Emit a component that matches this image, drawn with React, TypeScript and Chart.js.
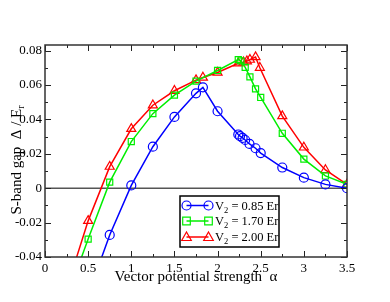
import React, { useEffect, useRef } from "react";
import { Chart, registerables } from "chart.js";

Chart.register(...registerables);

const xTicks = [0, 0.5, 1, 1.5, 2, 2.5, 3, 3.5];
const yTicks = [-0.04, -0.02, 0, 0.02, 0.04, 0.06, 0.08];

const alpha085 = [0.5, 0.75, 1.0, 1.25, 1.5, 1.75, 1.83, 2.0, 2.24, 2.26, 2.29, 2.32, 2.37, 2.44, 2.5, 2.75, 3.0, 3.25, 3.5];
const gap085 = [-0.062, -0.0272, 0.0016, 0.0241, 0.0414, 0.0551, 0.0586, 0.0447, 0.0312, 0.0302, 0.0292, 0.0280, 0.0257, 0.0232, 0.0204, 0.0120, 0.0061, 0.0022, 0.0];

const alpha170 = [0.25, 0.5, 0.75, 1.0, 1.25, 1.5, 1.75, 2.0, 2.24, 2.27, 2.32, 2.375, 2.44, 2.5, 2.75, 3.0, 3.25, 3.5];
const gap170 = [-0.064, -0.0296, 0.0035, 0.0271, 0.0433, 0.0541, 0.0622, 0.0684, 0.0747, 0.0740, 0.0702, 0.0647, 0.0577, 0.0527, 0.0319, 0.0169, 0.0071, 0.0022];

const alpha200 = [0.25, 0.5, 0.75, 1.0, 1.25, 1.5, 1.75, 1.83, 2.0, 2.24, 2.3, 2.34, 2.375, 2.44, 2.49, 2.75, 3.0, 3.25, 3.5];
const gap200 = [-0.0585, -0.019, 0.0125, 0.0345, 0.0482, 0.0566, 0.0628, 0.0643, 0.0672, 0.0726, 0.0732, 0.0738, 0.0747, 0.0762, 0.0700, 0.0419, 0.0237, 0.0106, 0.0022];

const seriesLabels = ["0.85", "1.70", "2.00"];
const seriesColors = ["#0000ff", "#00ee00", "#ff0000"];
const seriesMarkers = ["circle", "rect", "triangle"];

const SERIF = "'Liberation Serif', 'DejaVu Serif', serif";

function drawMarker(ctx, type, x, y, color) {
  ctx.save();
  ctx.strokeStyle = color;
  ctx.lineWidth = 1.2;
  ctx.beginPath();
  if (type === "circle") {
    ctx.arc(x, y, 4.5, 0, Math.PI * 2);
  } else if (type === "rect") {
    ctx.rect(x - 3.8, y - 3.8, 7.6, 7.6);
  } else {
    ctx.moveTo(x, y - 5);
    ctx.lineTo(x + 4.8, y + 3.5);
    ctx.lineTo(x - 4.8, y + 3.5);
    ctx.closePath();
  }
  ctx.stroke();
  ctx.restore();
}

const framePlugin = {
  id: "frameStuff",
  beforeDatasetsDraw(chart) {
    const { ctx, chartArea: a, scales } = chart;
    const y0 = scales.y.getPixelForValue(0);
    ctx.save();
    ctx.strokeStyle = "#555555";
    ctx.lineWidth = 1.5;
    ctx.beginPath();
    ctx.moveTo(a.left, y0);
    ctx.lineTo(a.right, y0);
    ctx.stroke();
    ctx.restore();
  },
  afterDraw(chart) {
    const { ctx, chartArea: a, scales } = chart;
    ctx.save();
    ctx.strokeStyle = "#222222";
    ctx.lineWidth = 1;
    ctx.beginPath();
    for (let v = 0; v <= 3.5 + 1e-9; v += 0.25) {
      const px = Math.round(scales.x.getPixelForValue(v)) + 0.5;
      const major = Math.abs(v * 2 - Math.round(v * 2)) < 1e-6;
      const len = major ? 6 : 3;
      ctx.moveTo(px, a.bottom);
      ctx.lineTo(px, a.bottom - len);
      ctx.moveTo(px, a.top);
      ctx.lineTo(px, a.top + len);
    }
    for (let i = -4; i <= 8; i++) {
      const v = i * 0.01;
      const py = Math.round(scales.y.getPixelForValue(v)) + 0.5;
      const major = i % 2 === 0;
      const len = major ? 6 : 3;
      ctx.moveTo(a.left, py);
      ctx.lineTo(a.left + len, py);
      ctx.moveTo(a.right, py);
      ctx.lineTo(a.right - len, py);
    }
    ctx.stroke();
    ctx.strokeStyle = "#333333";
    ctx.lineWidth = 1.5;
    ctx.strokeRect(a.left, a.top, a.right - a.left, a.bottom - a.top);

    // legend
    const lx = 180, ly = 196, lw = 99, lh = 51;
    ctx.fillStyle = "#ffffff";
    ctx.fillRect(lx, ly, lw, lh);
    ctx.strokeStyle = "#000000";
    ctx.lineWidth = 1.5;
    ctx.strokeRect(lx, ly, lw, lh);
    const rows = [205.5, 221, 237];
    for (let i = 0; i < 3; i++) {
      const yy = rows[i];
      ctx.strokeStyle = seriesColors[i];
      ctx.lineWidth = 1.5;
      ctx.beginPath();
      ctx.moveTo(186.5, yy);
      ctx.lineTo(208.5, yy);
      ctx.stroke();
      drawMarker(ctx, seriesMarkers[i], 186.5, yy, seriesColors[i]);
      drawMarker(ctx, seriesMarkers[i], 208.5, yy, seriesColors[i]);
      ctx.fillStyle = "#000000";
      ctx.textBaseline = "alphabetic";
      ctx.textAlign = "left";
      ctx.font = `12.5px ${SERIF}`;
      let tx = 215;
      const base = yy + 4;
      ctx.fillText("V", tx, base);
      tx += ctx.measureText("V").width;
      ctx.font = `8.5px ${SERIF}`;
      ctx.fillText("2", tx, base + 3);
      tx += ctx.measureText("2").width;
      ctx.font = `12.5px ${SERIF}`;
      ctx.fillText(" = " + seriesLabels[i] + " Er", tx, base);
    }

    // x title
    ctx.fillStyle = "#000000";
    ctx.font = `15px ${SERIF}`;
    ctx.textAlign = "center";
    ctx.textBaseline = "alphabetic";
    ctx.fillText("Vector potential strength  \u03b1", 196, 281);

    // y title
    ctx.save();
    ctx.translate(21, 160);
    ctx.rotate(-Math.PI / 2);
    ctx.font = `15px ${SERIF}`;
    const main = "S-band gap  \u0394 / E";
    const wMain = ctx.measureText(main).width;
    ctx.font = `10px ${SERIF}`;
    const wSub = ctx.measureText("r").width;
    const total = wMain + wSub;
    ctx.textAlign = "left";
    ctx.font = `15px ${SERIF}`;
    ctx.fillText(main, -total / 2, 0);
    ctx.font = `10px ${SERIF}`;
    ctx.fillText("r", -total / 2 + wMain, 3);
    ctx.restore();

    ctx.restore();
  },
};

export default function App() {
  const ref = useRef(null);
  useEffect(() => {
    const mk = (xs, ys, i) => ({
      label: seriesLabels[i],
      data: xs.map((x, k) => ({ x, y: ys[k] })),
      borderColor: seriesColors[i],
      backgroundColor: "rgba(0,0,0,0)",
      borderWidth: 1.5,
      pointStyle: seriesMarkers[i],
      pointRadius: seriesMarkers[i] === "circle" ? 4.5 : seriesMarkers[i] === "rect" ? 4.3 : 5.2,
      pointBorderWidth: 1.2,
      pointBorderColor: seriesColors[i],
      pointBackgroundColor: "rgba(0,0,0,0)",
      tension: 0,
      showLine: true,
      fill: false,
    });
    const chart = new Chart(ref.current, {
      type: "scatter",
      data: {
        datasets: [mk(alpha085, gap085, 0), mk(alpha170, gap170, 1), mk(alpha200, gap200, 2)],
      },
      plugins: [framePlugin],
      options: {
        animation: false,
        responsive: false,
        devicePixelRatio: 1,
        layout: { padding: { left: 0, right: 43, top: 45, bottom: 0 } },
        plugins: { legend: { display: false }, tooltip: { enabled: false } },
        scales: {
          x: {
            type: "linear",
            min: 0,
            max: 3.5,
            grid: { display: false, drawTicks: false },
            border: { display: false },
            afterBuildTicks: (s) => { s.ticks = xTicks.map((v) => ({ value: v })); },
            afterFit: (s) => { s.height = 302 - 257; },
            ticks: {
              color: "#000",
              font: { family: SERIF, size: 13 },
              padding: 4,
              maxRotation: 0,
              callback: (v) => String(Number(v)),
            },
          },
          y: {
            type: "linear",
            min: -0.04,
            max: 0.0832,
            grid: { display: false, drawTicks: false },
            border: { display: false },
            afterBuildTicks: (s) => { s.ticks = yTicks.map((v) => ({ value: v })); },
            afterFit: (s) => { s.width = 45; },
            ticks: {
              color: "#000",
              font: { family: SERIF, size: 13 },
              padding: 3,
              callback: (v) => { const n = Math.round(Number(v) * 100) / 100; return n === 0 ? "0" : String(n); },
            },
          },
        },
      },
    });
    return () => chart.destroy();
  }, []);
  return (
    <div style={{ position: "fixed", left: 0, top: 0, width: 390, height: 302, background: "#fff" }}>
      <canvas ref={ref} width={390} height={302} style={{ width: 390, height: 302 }} />
    </div>
  );
}
